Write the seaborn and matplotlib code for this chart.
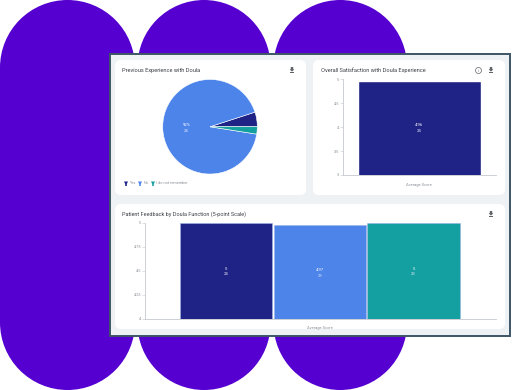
import pandas as pd
import seaborn as sns
import matplotlib.pyplot as plt
from matplotlib.patches import FancyBboxPatch, Rectangle, Circle, Polygon

sns.set_theme(style='white')
plt.rcParams['font.family'] = ['Roboto', 'DejaVu Sans']

# Chart values
pie_labels = ['Yes', 'No', 'I do not remember']
pie_values = [5, 92.5, 2.5]
pie_colors = ['#1f2385', '#4c84ea', '#14a0a0']

satisfaction_label = ['Average Score']
satisfaction_values = [4.96]
satisfaction_counts = ['24']
satisfaction_ticks = [3, 3.5, 4, 4.5, 5]

feedback_groups = ['Advocacy', 'Support', 'Information']
feedback_values = [5, 4.97, 5]
feedback_text = ['5', '4.97', '5']
feedback_counts = ['24', '29', '23']
feedback_ticks = [4, 4.25, 4.5, 4.75, 5]

W, H = 520, 390
PURPLE = '#5500d0'
TEXT = '#3c4046'
TICK = '#8a8f96'
AXIS = '#c4c8cd'


def px_axes(fig, x0, y0, x1, y1):
    # axes from pixel box, y measured from the top of the image
    return fig.add_axes([x0 / W, 1 - y1 / H, (x1 - x0) / W, (y1 - y0) / H])


def card(bg, x0, y0, x1, y1):
    r = 6
    bg.add_patch(FancyBboxPatch((x0 + r, y0 + r), x1 - x0 - 2 * r, y1 - y0 - 2 * r,
                                boxstyle=f'round,pad={r},rounding_size={r}',
                                fc='white', ec='none', zorder=3))


def download_icon(bg, x, y):
    bg.add_patch(Polygon([(x - 1.2, y - 3), (x + 1.2, y - 3), (x + 1.2, y - 0.8), (x + 2.4, y - 0.8),
                          (x, y + 1.6), (x - 2.4, y - 0.8), (x - 1.2, y - 0.8)],
                         fc='#5f6368', ec='none', zorder=4))
    bg.add_patch(Rectangle((x - 2.4, y + 2.2), 4.8, 0.9, fc='#5f6368', ec='none', zorder=4))


def style_bar_axes(ax, ticks, labels):
    sns.despine(ax=ax, top=True, right=True)
    ax.patch.set_alpha(0)
    for side in ['left', 'bottom']:
        ax.spines[side].set_color(AXIS)
        ax.spines[side].set_linewidth(0.6)
    ax.set_yticks(ticks)
    ax.set_yticklabels(labels)
    ax.tick_params(axis='y', left=True, length=2, width=0.4, color=AXIS,
                   labelsize=2.8, labelcolor=TICK, pad=0.6)
    ax.set_xlabel('')
    ax.set_ylabel('')


fig = plt.figure(figsize=(5.2, 3.9), dpi=100, facecolor='white')

# Background: purple pills, dashboard frame and cards, in image pixels
bg = fig.add_axes([0, 0, 1, 1])
bg.set_xlim(0, W)
bg.set_ylim(H, 0)
bg.axis('off')
for x0, x1 in [(0, 135), (137.5, 270.5), (273.5, 407)]:
    r = (x1 - x0) / 2
    bg.add_patch(Circle((x0 + r, r), r, fc=PURPLE, ec='none', zorder=1))
    bg.add_patch(Circle((x0 + r, H - r), r, fc=PURPLE, ec='none', zorder=1))
    bg.add_patch(Rectangle((x0, r), x1 - x0, H - 2 * r, fc=PURPLE, ec='none', zorder=1))
bg.add_patch(Rectangle((109.5, 54), 400.5, 281.5, fc='#eff2f5', ec='#3d5566', lw=1.4, zorder=2))
card(bg, 115, 60, 306, 195)
card(bg, 313, 60, 505, 195)
card(bg, 115, 204, 505, 329)

# Card titles and icons
bg.text(122, 70.5, 'Previous Experience with Doula', fontsize=4.05, color=TEXT, va='center', zorder=5)
bg.text(321, 70.5, 'Overall Satisfaction with Doula Experience', fontsize=4.05, color=TEXT, va='center', zorder=5)
bg.text(122, 214, 'Patient Feedback by Doula Function (5-point Scale)', fontsize=4.0, color=TEXT, va='center', zorder=5)
download_icon(bg, 292, 70)
download_icon(bg, 491, 70)
download_icon(bg, 491, 214)
bg.add_patch(Circle((478.5, 70.5), 3, fc='none', ec='#5f6368', lw=0.5, zorder=4))
bg.text(478.5, 70.6, 'i', fontsize=3, color='#5f6368', ha='center', va='center', zorder=5)

# Pie chart
ax_pie = px_axes(fig, 162, 79, 258, 174.5)
ax_pie.pie(pie_values, colors=pie_colors, startangle=0, counterclock=True, radius=1,
           wedgeprops={'edgecolor': 'white', 'linewidth': 0.4})
ax_pie.set_xlim(-1.01, 1.01)
ax_pie.set_ylim(-1.01, 1.01)
ax_pie.text(-0.5, 0.0, '92%', fontsize=3, color='white', ha='center', va='bottom')
ax_pie.text(-0.5, -0.05, '24', fontsize=3, color='#dfe8fb', ha='center', va='top')

# Pie legend, drawn as funnel markers with small labels
legend_x = [126, 140, 153]
for x, color, name in zip(legend_x, pie_colors, pie_labels):
    bg.add_patch(Polygon([(x - 2, 181.5), (x + 2, 181.5), (x + 0.8, 184), (x + 0.8, 186), (x - 0.8, 186), (x - 0.8, 184)],
                         fc=color, ec='none', zorder=5))
    bg.text(x + 3.5, 183.5, name, fontsize=2.8, color=TICK, va='center', zorder=5)

# Overall satisfaction bar
ax_sat = px_axes(fig, 342.5, 79.3, 496, 175)
sns.barplot(x=satisfaction_label, y=satisfaction_values, ax=ax_sat, color=pie_colors[0],
            saturation=1, width=0.8)
ax_sat.set_xlim(-0.5, 0.5)
ax_sat.set_ylim(3, 5)
style_bar_axes(ax_sat, satisfaction_ticks, ['3', '3.5', '4', '4.5', '5'])
ax_sat.tick_params(axis='x', bottom=False, length=0, labelsize=2.9, labelcolor=TICK, pad=6)
ax_sat.text(0, 4.0, satisfaction_values[0], fontsize=3, color='white', ha='center', va='bottom')
ax_sat.text(0, 3.97, satisfaction_counts[0], fontsize=3, color='#dfe3f8', ha='center', va='top')

# Feedback bars
df = pd.DataFrame({'group': feedback_groups, 'score': feedback_values})
ax_fb = px_axes(fig, 144.5, 222.5, 496, 318.5)
sns.barplot(data=df, x='group', y='score', hue='group', palette=pie_colors,
            saturation=1, width=0.985, legend=False, ax=ax_fb,
            edgecolor='#9db4e8', linewidth=0.4)
ax_fb.set_xlim(-0.867, 2.878)
ax_fb.set_ylim(4, 5)
style_bar_axes(ax_fb, feedback_ticks, ['4', '4.25', '4.5', '4.75', '5'])
ax_fb.set_xticks([])
for bar, value, count in zip(ax_fb.patches, feedback_text, feedback_counts):
    mid = 4 + (bar.get_height() - 4) / 2
    cx = bar.get_x() + bar.get_width() / 2
    ax_fb.text(cx, mid + 0.0, value, fontsize=3, color='white', ha='center', va='bottom')
    ax_fb.text(cx, mid - 0.02, count, fontsize=3, color='#dfe3f8', ha='center', va='top')
bg.text(320, 328.5, 'Average Score', fontsize=2.9, color=TICK, ha='center', va='center', zorder=5)

fig.savefig('out.png', dpi=100, facecolor='white')
